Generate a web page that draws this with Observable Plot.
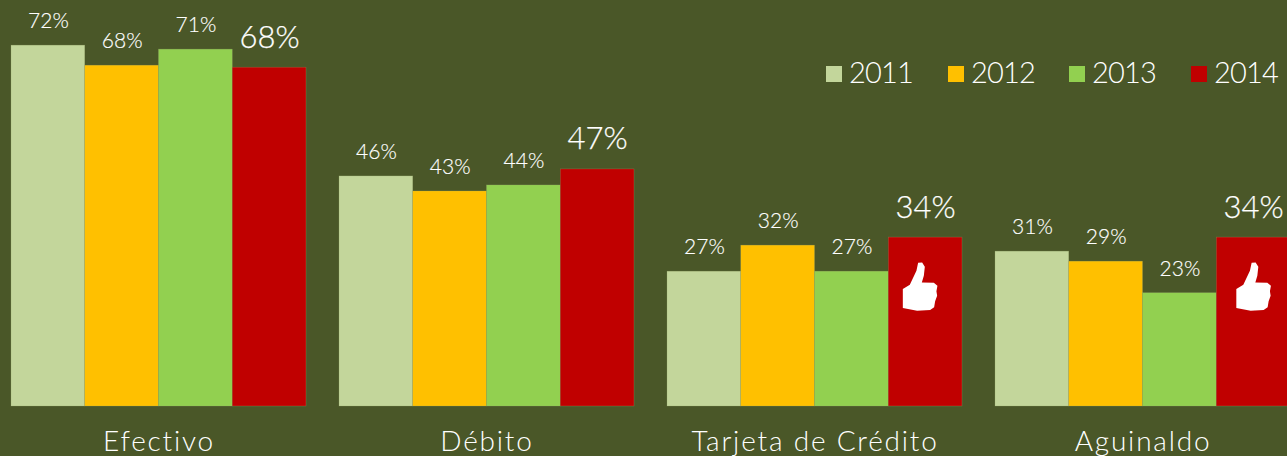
<!DOCTYPE html>
<html>
<head>
<meta charset="utf-8">
<script src="https://cdn.jsdelivr.net/npm/d3@7"></script>
<script src="https://cdn.jsdelivr.net/npm/@observablehq/plot@0.6"></script>
<style>
html,body{margin:0;padding:0;background:#4A5728;overflow:hidden;width:1287px;height:456px}
#chart{position:relative;width:1287px;height:456px;overflow:hidden;font-family:Lato,sans-serif;font-weight:300;color:#fff}
#chart svg{display:block;background:#4A5728;font-family:Lato,sans-serif;font-weight:300;max-width:none}
#chart svg g[aria-label="fx-axis tick label"]{letter-spacing:1.8px}
#legend{position:absolute;left:826px;top:55px;font-size:29px;line-height:38px;height:38px;letter-spacing:-0.8px}
#legend span.item{display:flex;align-items:center;position:absolute;top:0;height:38px;white-space:nowrap}
#legend i{display:block;width:16px;height:16px;margin-right:7px}
#legend b{font-weight:300;position:relative;top:-2px}
</style>
</head>
<body>
<div id="chart"><div id="legend"></div></div>
<script>
const categories = ["Efectivo", "Débito", "Tarjeta de Crédito", "Aguinaldo"];
const years = ["2011", "2012", "2013", "2014"];
const colors = ["#C3D69B", "#FFC000", "#92D050", "#C00000"];
const heights2011 = [72, 45.9, 26.9, 30.9];
const heights2012 = [68, 42.9, 32.1, 28.9];
const heights2013 = [71.2, 44.1, 26.9, 22.6];
const heights2014 = [67.6, 47.3, 33.7, 33.7];
const labels2011 = ["72%", "46%", "27%", "31%"];
const labels2012 = ["68%", "43%", "32%", "29%"];
const labels2013 = ["71%", "44%", "27%", "23%"];
const labels2014 = ["68%", "47%", "34%", "34%"];

const allHeights = [heights2011, heights2012, heights2013, heights2014];
const allLabels = [labels2011, labels2012, labels2013, labels2014];
const rows = years.flatMap((year, y) => categories.map((category, c) => ({
  category, year, value: allHeights[y][c], label: allLabels[y][c]
})));
const last = rows.filter(d => d.year === "2014");
const rest = rows.filter(d => d.year !== "2014");

const thumbShape = [[-17.3,21.8],[-17.3,2.8],[-10.3,-1.5],[-3.7,-15.5],[-2,-23.5],[2,-23.8],[4.7,-19.5],[3.7,-10.5],[1.7,-3.8],[13.7,-3.5],[17.3,-.5],[16.3,5],[17,9.5],[15,15],[14,21],[10,23.8],[-3,24.5]];
const thumbSymbol = {draw(ctx) {
  thumbShape.forEach(([a, b], i) => i ? ctx.lineTo(a, b) : ctx.moveTo(a, b));
  ctx.closePath();
}};

const plot = Plot.plot({
  width: 1290, height: 456,
  marginLeft: 11, marginRight: 0, marginTop: 0, marginBottom: 50,
  style: {background: "#4A5728", color: "#fff", overflow: "hidden"},
  x: {domain: years, axis: null, padding: 0, round: false},
  y: {domain: [0, 81], axis: null},
  fx: {domain: categories, range: [11, 1290], paddingInner: 33 / 328, paddingOuter: 0, label: null, round: false},
  color: {domain: years, range: colors},
  marks: [
    Plot.barY(rows, {x: "year", fx: "category", y: "value", fill: "year", stroke: "#9AA86E", strokeWidth: 0.5, strokeOpacity: 0.5}),
    Plot.text(rest, {x: "year", fx: "category", y: "value", text: "label", fill: "#fff", stroke: "#fff", strokeWidth: 0.15, fontSize: 21, lineAnchor: "bottom", dy: -17.5}),
    Plot.text(last, {x: "year", fx: "category", y: "value", text: "label", fill: "#fff", stroke: "#fff", strokeWidth: 0.25, fontSize: 31, lineAnchor: "bottom", dy: -20}),
    Plot.dot(last.filter(d => d.category === "Tarjeta de Crédito"), {x: "year", fx: "category", y: () => 24, symbol: thumbSymbol, fill: "#fff", stroke: "none", dx: -5.5}),
    Plot.dot(last.filter(d => d.category === "Aguinaldo"), {x: "year", fx: "category", y: () => 24, symbol: thumbSymbol, fill: "#fff", stroke: "none", dx: 0}),
    Plot.axisFx({anchor: "bottom", tickSize: 0, tickPadding: 25, fontSize: 28, fill: "#fff", stroke: "#fff", strokeWidth: 0.15, label: null})
  ]
});
document.getElementById("chart").prepend(plot);

const legendX = [0, 122, 243, 365];
const legend = document.getElementById("legend");
years.forEach((year, i) => {
  const item = document.createElement("span");
  item.className = "item";
  item.style.left = legendX[i] + "px";
  const sw = document.createElement("i");
  sw.style.background = colors[i];
  const tx = document.createElement("b");
  tx.textContent = year;
  item.append(sw, tx);
  legend.append(item);
});
</script>
</body>
</html>
